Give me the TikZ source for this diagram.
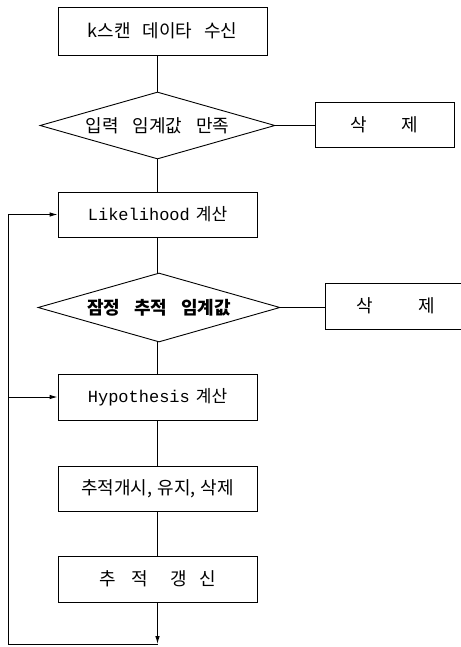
\documentclass[tikz,border=0pt]{standalone}
\usepackage{fontspec}
\usepackage{tikz}
\usetikzlibrary{shapes,arrows,positioning,calc,arrows.meta}
\newfontfamily\krfont{Noto Sans CJK KR}
\newfontfamily\latfont{Liberation Mono}

\begin{document}
\begin{tikzpicture}[x=1pt,y=-1pt, >={Latex[length=8pt,width=4.5pt]}, line width=0.9pt,
    box/.style={draw, rectangle, minimum width=199pt, minimum height=45pt, inner sep=0pt,
        font=\krfont\fontsize{18}{20}\selectfont},
    decision/.style={draw, diamond, shape aspect=3.5, inner sep=0pt,
        font=\krfont\fontsize{18}{20}\selectfont}]
    \useasboundingbox (0,0) rectangle (460,647);

    % Main flow
    \node[box, minimum width=209pt, minimum height=48pt] (scan) at (162.5,31) {k스캔\hspace{12pt}데이타\hspace{12pt}수신};
    \node[decision, minimum width=235pt, minimum height=67pt] (thr) at (157.5,125.5) {입력\hspace{14pt}임계값\hspace{14pt}만족};
    \node[box, font=\krfont\fontsize{17}{20}\selectfont] (like) at (157.5,214.5) {{\latfont Likelihood}\hspace{6pt}계산};
    \node[decision, minimum width=242pt, minimum height=69pt, font=\krfont\bfseries\fontsize{18}{20}\selectfont] (tent) at (159,307.5) {잠정\hspace{14pt}추적\hspace{14pt}임계값};
    \node[box, minimum height=46pt, font=\krfont\fontsize{17}{20}\selectfont] (hyp) at (157.5,397) {{\latfont Hypothesis}\hspace{6pt}계산};
    \node[box] (init) at (157.5,488.5) {추적개시,\hspace{5pt}유지,\hspace{5pt}삭제};
    \node[box, minimum height=46pt] (upd) at (157.5,579) {추\hspace{16pt}적\hspace{22pt}갱\hspace{12pt}신};

    % Deletion boxes
    \node[box, minimum width=139pt] (del1) at (384.5,124.5) {삭\hspace{34pt}제};
    \node[box, minimum width=142pt, minimum height=46pt] (del2) at (396,306) {삭\hspace{46pt}제};

    % Loop corners
    \coordinate (bot) at (157.5,644);
    \coordinate (lc) at (8,644);

    % Connectors
    \draw (thr.north |- scan.south) -- (thr.north);
    \draw (thr.south) -- (like.north);
    \draw (thr.east) -- (thr.east -| del1.west);
    \draw (like.south) -- (tent.north -| like.south);
    \draw (tent.east) -- (tent.east -| del2.west);
    \draw (tent.south -| hyp.north) -- (hyp.north);
    \draw (hyp.south) -- (init.north);
    \draw (init.south) -- (upd.north);
    \draw[->] (upd.south) -- (bot);
    \draw (bot) -- (lc);
    \draw[->] (lc) |- (like.west);
    \draw[->] (lc |- hyp.west) -- (hyp.west);
\end{tikzpicture}
\end{document}
